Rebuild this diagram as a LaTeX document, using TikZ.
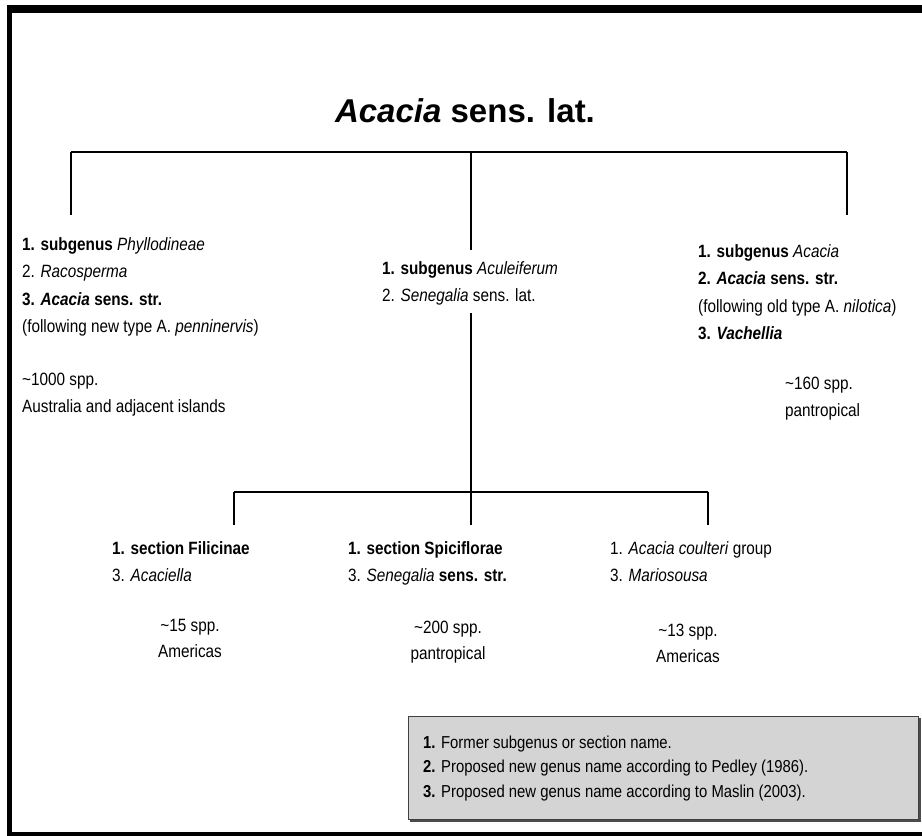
\documentclass[tikz,border=0pt]{standalone}
\usepackage{fontspec}
\setmainfont{Liberation Sans}[FakeStretch=0.86]
\newfontfamily\titlefont{Liberation Sans}

\begin{document}
\begin{tikzpicture}[x=1pt,y=-1pt,
    taxon/.style={anchor=base west,align=left,inner sep=0pt,
      font=\fontsize{17.8}{27.5}\selectfont},
    count/.style={anchor=base,align=center,inner sep=0pt,
      font=\fontsize{17.8}{25.5}\selectfont},
    bar/.style={line width=1.3pt}]
  \useasboundingbox (0,0) rectangle (922,836);
  % frame
  \fill (7,5) rectangle (922,13);
  \fill (7,5) rectangle (12,836);
  \fill (7,832) rectangle (922,836);

  \node[anchor=base,inner sep=0pt,font=\titlefont\fontsize{33}{35}\selectfont\bfseries]
    (root) at (465,122) {\textit{Acacia} sens. lat.};

  % first split (base = last line)
  \node[taxon] (phyl) at (22,332.5) {\textbf{1. subgenus} \textit{Phyllodineae}\\
    2. \textit{Racosperma}\\
    \textbf{3. \textit{Acacia} sens. str.}\\
    (following new type A. \textit{penninervis})};
  \node[taxon] (phylspp) at (22,412.5) {\textasciitilde1000 spp.\\
    Australia and adjacent islands};
  \node[taxon] (acul) at (382,301.5) {\textbf{1. subgenus} \textit{Aculeiferum}\\
    2. \textit{Senegalia} sens. lat.};
  \node[taxon] (acac) at (698,339.5) {\textbf{1. subgenus} \textit{Acacia}\\
    \textbf{2. \textit{Acacia} sens. str.}\\
    (following old type A. \textit{nilotica})\\
    \textbf{3. \textit{Vachellia}}};
  \node[taxon] (acacspp) at (785,416.5) {\textasciitilde160 spp.\\ pantropical};

  % second split
  \node[taxon] (fili) at (112,581.5) {\textbf{1. section Filicinae}\\
    3. \textit{Acaciella}};
  \node[count] (filispp) at (190,657) {\textasciitilde15 spp.\\ Americas};
  \node[taxon] (spic) at (348,581.5) {\textbf{1. section Spiciflorae}\\
    3. \textit{Senegalia} \textbf{sens. str.}};
  \node[count] (spicspp) at (448,659) {\textasciitilde200 spp.\\ pantropical};
  \node[taxon] (coul) at (610,581.5) {1. \textit{Acacia coulteri} group\\
    3. \textit{Mariosousa}};
  \node[count] (coulspp) at (688,662) {\textasciitilde13 spp.\\ Americas};

  % connectors
  \coordinate (topL) at (71,152);
  \coordinate (topM) at (471,152);
  \coordinate (topR) at (847,152);
  \coordinate (lowL) at (234,492);
  \coordinate (lowM) at (471,492);
  \coordinate (lowR) at (708,492);
  \draw[bar] (topL) -- (topR);
  \draw[bar] (topL) -- (topL |- 0,215);
  \draw[bar] (topR) -- (topR |- 0,215);
  \draw[bar] (topM) -- (topM |- 0,250);
  \draw[bar] (topM |- acul.south) ++(0,8) -- (lowM);
  \draw[bar] (lowL) -- (lowR);
  \draw[bar] (lowL) -- (lowL |- 0,525);
  \draw[bar] (lowM) -- (lowM |- 0,525);
  \draw[bar] (lowR) -- (lowR |- 0,525);

  % key
  \fill[black!70] (410,718) rectangle (921,822);
  \filldraw[fill=black!17,draw=black!75,line width=0.8pt] (408,716) rectangle (918,819);
  \node[anchor=base west,align=left,inner sep=0pt,
    font=\fontsize{17.3}{24.5}\selectfont] (key) at (423,797)
    {\textbf{1.} Former subgenus or section name.\\
     \textbf{2.} Proposed new genus name according to Pedley (1986).\\
     \textbf{3.} Proposed new genus name according to Maslin (2003).};
\end{tikzpicture}
\end{document}
